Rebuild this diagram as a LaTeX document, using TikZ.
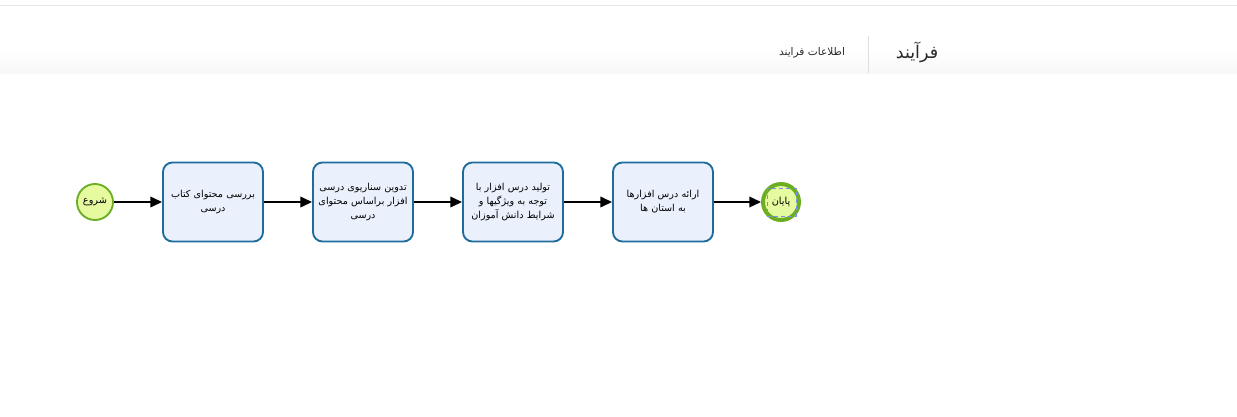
\documentclass[tikz,border=0pt]{standalone}
\usepackage{fontspec}
\setmainfont{DejaVu Sans}
\newfontfamily\farsi[Script=Arabic]{DejaVu Sans}
\TeXXeTstate=1
\usetikzlibrary{arrows.meta}
\definecolor{taskfill}{HTML}{EAF0FC}
\definecolor{taskline}{HTML}{1F6C9C}
\definecolor{eventfill}{HTML}{E6FBA0}
\definecolor{eventline}{HTML}{6BAE24}
\definecolor{selblue}{HTML}{7A8CF0}
\definecolor{headtext}{HTML}{2B2B2B}

\tikzset{
  task/.style={draw=taskline, fill=taskfill, line width=1.6pt, rounded corners=8pt,
    minimum width=3cm, minimum height=2.37cm, inner sep=0pt, align=center, text width=2.9cm,
    font=\farsi\fontsize{8.2}{12}\selectfont},
  event/.style={circle, draw=eventline, fill=eventfill, line width=1.6pt,
    minimum size=1.08cm, inner sep=0pt, font=\farsi\fontsize{8.3}{9}\selectfont},
  flow/.style={line width=1.6pt, -{Triangle[length=10pt,width=9pt]}}
}

\begin{document}
\begin{tikzpicture}[x=0.03cm,y=-0.03cm]
\useasboundingbox (0,0) rectangle (1237,416);
% header band
\draw[gray!20, line width=0.8pt] (0,5) -- (1237,5);
\shade[top color=white, bottom color=gray!6] (0,50) rectangle (1237,73);
\draw[gray!25, line width=0.7pt] (868,36) -- (868,73);
\node[font=\farsi\fontsize{15}{17}\selectfont, text=headtext] (title) at (917,52) {\beginR فرآیند\endR};
\node[font=\farsi\fontsize{9}{10}\selectfont, text=headtext] (info) at (812,53) {\beginR اطلاعات فرایند\endR};

% process
\node[event] (start) at (95,202) {\beginR شروع\endR};
\node[task] (t1) at (213,202) {\beginR بررسی محتوای کتاب\endR\\\beginR درسی\endR};
\node[task] (t2) at (363,202) {\beginR تدوین سناریوی درسی\endR\\\beginR افزار براساس محتوای\endR\\\beginR درسی\endR};
\node[task] (t3) at (513,202) {\beginR تولید درس افزار با\endR\\\beginR توجه به ویژگیها و\endR\\\beginR شرایط دانش آموزان\endR};
\node[task] (t4) at (663,202) {\beginR ارائه درس افزارها\endR\\\beginR به استان ها\endR};
\node[event, line width=3.4pt] (end) at (781,202) {\beginR پایان\endR};
\draw[selblue, dashed, line width=0.6pt] (767,188) rectangle (796,216);

\draw[flow] (start) -- (t1);
\draw[flow] (t1) -- (t2);
\draw[flow] (t2) -- (t3);
\draw[flow] (t3) -- (t4);
\draw[flow] (t4) -- (end);
\end{tikzpicture}
\end{document}
